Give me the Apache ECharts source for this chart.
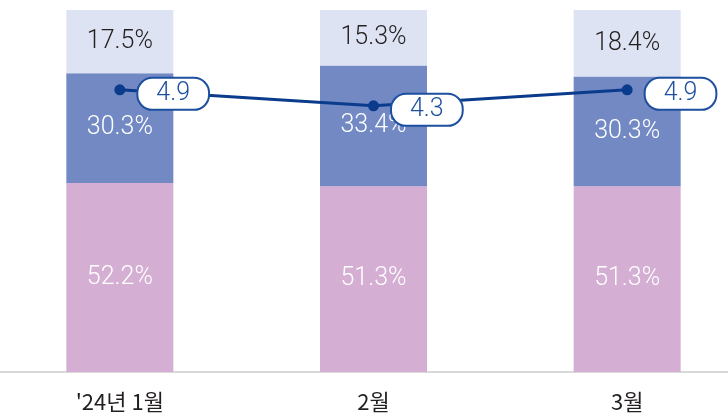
<!DOCTYPE html>
<html><head><meta charset="utf-8">
<script src="https://cdn.jsdelivr.net/npm/echarts@6/dist/echarts.min.js"></script>
<style>html,body{margin:0;padding:0;background:#fff}#c{width:728px;height:415px}</style>
</head><body><div id="c"></div>
<script>
const categories = ["'24년 1월", "2월", "3월"];
const bottomShare = [52.2, 51.3, 51.3];
const middleShare = [30.3, 33.4, 30.3];
const topShare = [17.5, 15.3, 18.4];
const lineValues = [4.9, 4.3, 4.9];

const chart = echarts.init(document.getElementById('c'), null, {renderer: 'canvas'});
const barW = 107;
const pctLabel = (color) => ({
  show: true, position: 'inside', color: color,
  fontFamily: 'Roboto', fontSize: 25, fontWeight: 300,
  formatter: p => p.value.toFixed(1) + '%'
});
chart.setOption({
  animation: false,
  grid: {left: -7, right: -26, top: 10, bottom: 43, outerBoundsMode: 'none', containLabel: false},
  xAxis: {
    type: 'category', data: categories,
    axisLine: {lineStyle: {color: '#d9d9d9', width: 2}},
    axisTick: {show: false},
    axisLabel: {color: '#231f20', fontFamily: 'Noto Sans CJK KR', fontSize: 22, margin: 19}
  },
  yAxis: [
    {type: 'value', min: 0, max: 100, show: false},
    {type: 'value', min: -5.7, max: 7.9, show: false}
  ],
  series: [
    {type: 'bar', stack: 's', data: bottomShare, barWidth: barW,
     itemStyle: {color: '#d4aed3'}, label: pctLabel('#ffffff')},
    {type: 'bar', stack: 's', data: middleShare, barWidth: barW,
     itemStyle: {color: '#7289c4'}, label: pctLabel('#ffffff')},
    {type: 'bar', stack: 's', data: topShare, barWidth: barW,
     itemStyle: {color: '#dde3f3'}, label: pctLabel('#231f20')},
    {type: 'line', yAxisIndex: 1, data: lineValues, z: 5,
     symbol: 'circle', symbolSize: 11,
     lineStyle: {color: '#0b3b8c', width: 3},
     itemStyle: {color: '#0b3b8c'},
     label: {
       show: true, position: 'right', distance: 13, offset: [0, 4],
       color: '#1d4f9f', fontFamily: 'Roboto', fontSize: 25, fontWeight: 300,
       backgroundColor: '#fff', borderColor: '#1d4f9f', borderWidth: 2,
       borderRadius: 14, padding: [3, 18, 2, 18], lineHeight: 25,
       formatter: p => p.value.toFixed(1)
     }}
  ]
});
</script></body></html>
